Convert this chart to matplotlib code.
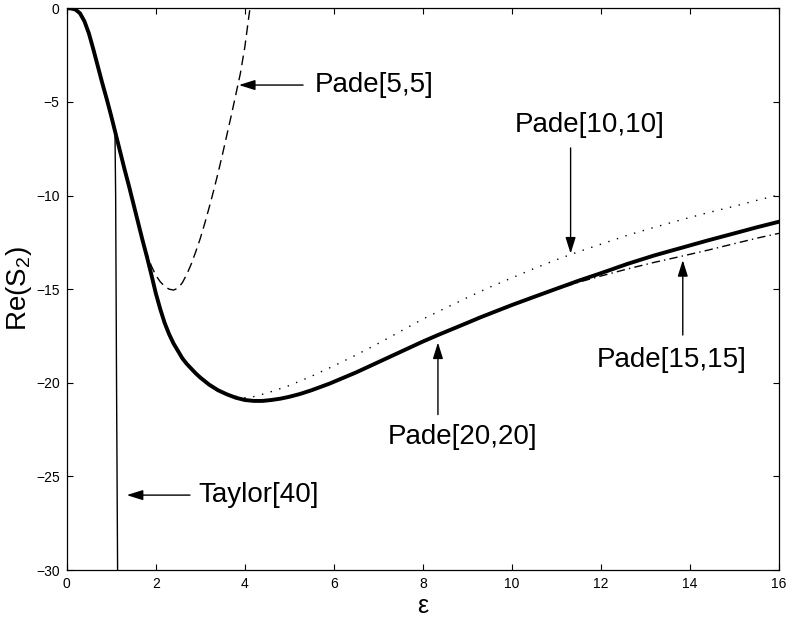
import matplotlib
matplotlib.use("Agg")
import matplotlib.pyplot as plt

plt.rcParams['font.family'] = ['Liberation Sans', 'DejaVu Sans']
plt.rcParams['mathtext.default'] = 'regular'

# exact / Pade[20,20] curve (thick)
exact_x = [0, 0.1, 0.2, 0.3, 0.4, 0.5, 0.6, 0.7, 0.8, 0.9, 1.0, 1.1, 1.2, 1.3, 1.4, 1.5,
           1.6, 1.7, 1.8, 1.9, 2.0, 2.1, 2.2, 2.3, 2.4, 2.5, 2.6, 2.7, 2.8, 2.9, 3.0,
           3.2, 3.4, 3.6, 3.8, 4.0, 4.2, 4.4, 4.6, 4.8, 5.0, 5.24, 5.5, 5.9, 6.5, 7.0,
           7.5, 8.0, 8.34, 9.0, 9.3, 10.0, 10.4, 11.0, 11.5, 12.0, 12.6, 13.2, 13.8,
           14.4, 15.0, 15.5, 16.0]
exact_y = [0, -0.01, -0.07, -0.27, -0.7, -1.35, -2.2, -3.1, -4.0, -4.85, -5.75, -6.7, -7.65, -8.6, -9.5, -10.45,
           -11.4, -12.35, -13.25, -14.2, -15.2, -16.05, -16.8, -17.4, -17.9, -18.3, -18.7, -19.0, -19.25, -19.5, -19.72,
           -20.1, -20.4, -20.62, -20.8, -20.92, -20.97, -20.97, -20.92, -20.85, -20.75, -20.6, -20.4, -20.05, -19.45, -18.9,
           -18.35, -17.8, -17.45, -16.8, -16.5, -15.85, -15.5, -14.98, -14.55, -14.15, -13.65, -13.2, -12.8,
           -12.4, -12.02, -11.7, -11.4]

# Pade[5,5] (dashed)
p5_x = [0, 0.1, 0.2, 0.3, 0.4, 0.5, 0.6, 0.7, 0.8, 0.9, 1.0, 1.1, 1.2, 1.3, 1.4, 1.5,
        1.6, 1.7, 1.8, 1.9, 2.0, 2.1, 2.2, 2.3, 2.4, 2.5, 2.6, 2.7, 2.8, 2.9, 3.0,
        3.1, 3.2, 3.3, 3.4, 3.5, 3.6, 3.7, 3.8, 3.9, 4.0, 4.1, 4.15]
p5_y = [0, -0.01, -0.07, -0.27, -0.7, -1.35, -2.2, -3.1, -4.0, -4.85, -5.75, -6.7, -7.65, -8.6, -9.5, -10.45,
        -11.4, -12.35, -13.1, -13.75, -14.25, -14.6, -14.85, -15.0, -15.05, -14.95, -14.65, -14.2, -13.65, -13.0, -12.3,
        -11.5, -10.65, -9.75, -8.8, -7.8, -6.75, -5.7, -4.6, -3.5, -2.1, -0.3, 0.5]

# Pade[10,10] (dotted)
p10_x = [0, 0.1, 0.2, 0.3, 0.4, 0.5, 0.6, 0.7, 0.8, 0.9, 1.0, 1.1, 1.2, 1.3, 1.4, 1.5,
         1.6, 1.7, 1.8, 1.9, 2.0, 2.1, 2.2, 2.3, 2.4, 2.5, 2.6, 2.7, 2.8, 2.9, 3.0,
         3.2, 3.4, 3.6, 3.8, 4.0, 4.2, 4.5, 5.0, 5.5, 6.0, 6.5, 7.0, 7.5, 8.0, 8.5,
         9.0, 9.5, 10.0, 10.5, 11.0, 11.5, 12.0, 12.6, 13.2, 13.8, 14.4, 15.0, 15.5, 16.0]
p10_y = [0, -0.01, -0.07, -0.27, -0.7, -1.35, -2.2, -3.1, -4.0, -4.85, -5.75, -6.7, -7.65, -8.6, -9.5, -10.45,
         -11.4, -12.35, -13.25, -14.2, -15.2, -16.05, -16.8, -17.4, -17.9, -18.3, -18.7, -19.0, -19.25, -19.5, -19.72,
         -20.1, -20.4, -20.6, -20.72, -20.8, -20.74, -20.55, -20.15, -19.65, -19.1, -18.52, -17.9, -17.25, -16.6, -16.02,
         -15.45, -14.9, -14.4, -13.9, -13.43, -13.0, -12.6, -12.12, -11.7, -11.3, -10.92, -10.57, -10.26, -9.97]

# Pade[15,15] (dash-dot)
p15_x = [0, 0.1, 0.2, 0.3, 0.4, 0.5, 0.6, 0.7, 0.8, 0.9, 1.0, 1.1, 1.2, 1.3, 1.4, 1.5,
         1.6, 1.7, 1.8, 1.9, 2.0, 2.1, 2.2, 2.3, 2.4, 2.5, 2.6, 2.7, 2.8, 2.9, 3.0,
         3.2, 3.4, 3.6, 3.8, 4.0, 4.2, 4.4, 4.6, 4.8, 5.0, 5.24, 5.5, 5.9, 6.5, 7.0,
         7.5, 8.0, 8.34, 9.0, 9.3, 10.0, 10.4, 11.0, 11.5, 12.0, 12.6, 13.2, 13.8,
         14.4, 15.0, 15.5, 16.0]
p15_y = [0, -0.01, -0.07, -0.27, -0.7, -1.35, -2.2, -3.1, -4.0, -4.85, -5.75, -6.7, -7.65, -8.6, -9.5, -10.45,
         -11.4, -12.35, -13.25, -14.2, -15.2, -16.05, -16.8, -17.4, -17.9, -18.3, -18.7, -19.0, -19.25, -19.5, -19.72,
         -20.1, -20.4, -20.62, -20.8, -20.92, -20.97, -20.97, -20.92, -20.85, -20.75, -20.6, -20.4, -20.05, -19.45, -18.9,
         -18.35, -17.8, -17.45, -16.8, -16.5, -15.85, -15.5, -15.01, -14.63, -14.3, -13.92, -13.57, -13.25,
         -12.92, -12.57, -12.28, -12.02]

# Taylor[40] (thin solid)
tay_x = [0, 0.1, 0.2, 0.3, 0.4, 0.5, 0.6, 0.7, 0.8, 0.9, 1.0, 1.05, 1.085, 1.10, 1.12, 1.145]
tay_y = [0, -0.01, -0.07, -0.27, -0.7, -1.35, -2.2, -3.1, -4.0, -4.85, -5.75, -6.2, -6.6, -10.0, -20.0, -30.5]

xticks = [0, 2, 4, 6, 8, 10, 12, 14, 16]
yticks = [0, -5, -10, -15, -20, -25, -30]

fig = plt.figure(figsize=(7.9, 6.22), dpi=100)
ax = fig.add_axes([0.0844, 0.0836, 0.9016, 0.9031])

ax.plot(tay_x, tay_y, color='k', lw=1.0)
ax.plot(p5_x, p5_y, color='k', lw=1.0, dashes=(7, 4))
ax.plot(p10_x, p10_y, color='k', lw=1.0, dashes=(1, 5.5))
ax.plot(p15_x, p15_y, color='k', lw=1.0, dashes=(6, 3, 1, 3))
ax.plot(exact_x, exact_y, color='k', lw=2.8, solid_joinstyle='round')

ax.set_xlim(0, 16)
ax.set_ylim(-30, 0)
ax.set_xticks(xticks)
ax.set_yticks(yticks)
ax.tick_params(direction='in', top=True, right=True, length=4.5, width=0.8,
               labelsize=10, pad=5)
for s in ax.spines.values():
    s.set_linewidth(0.9)

ax.set_xlabel('ε', fontsize=18, labelpad=2)
ax.set_ylabel('Re(S$_2$)', fontsize=20)
ax.yaxis.set_label_coords(-0.046, 0.5)

arrow = dict(arrowstyle='-|>,head_length=0.7,head_width=0.22', color='k', lw=1.0,
             shrinkA=0, shrinkB=0, mutation_scale=14)

ax.annotate('', xy=(3.87, -4.1), xytext=(5.31, -4.1), arrowprops=arrow)
ax.text(5.58, -4.1, 'Pade[5,5]', fontsize=20, ha='left', va='center')

ax.annotate('', xy=(1.35, -26.0), xytext=(2.77, -26.0), arrowprops=arrow)
ax.text(2.95, -26.0, 'Taylor[40]', fontsize=20, ha='left', va='center')

ax.annotate('', xy=(11.32, -13.1), xytext=(11.32, -7.46), arrowprops=arrow)
ax.text(11.75, -6.24, 'Pade[10,10]', fontsize=20, ha='center', va='center')

ax.annotate('', xy=(8.34, -17.85), xytext=(8.34, -21.7), arrowprops=arrow)
ax.text(8.9, -22.9, 'Pade[20,20]', fontsize=20, ha='center', va='center')

ax.annotate('', xy=(13.84, -13.45), xytext=(13.84, -17.45), arrowprops=arrow)
ax.text(13.6, -18.8, 'Pade[15,15]', fontsize=20, ha='center', va='center')

fig.savefig('out.png', dpi=100)
